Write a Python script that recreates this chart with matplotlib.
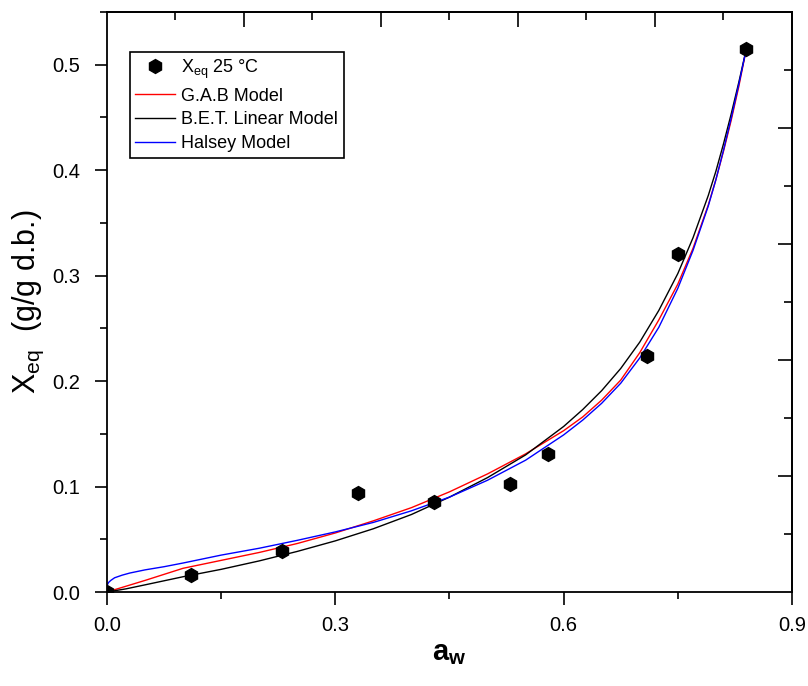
import matplotlib
matplotlib.use('Agg')
import matplotlib.pyplot as plt
from matplotlib.ticker import MultipleLocator, NullFormatter

plt.rcParams['font.family'] = ['Liberation Sans', 'DejaVu Sans']
plt.rcParams['mathtext.default'] = 'regular'

# experimental points, 25 C
aw_exp = [0.0, 0.11, 0.23, 0.33, 0.43, 0.53, 0.58, 0.71, 0.75, 0.84]
x_exp = [0.0, 0.016, 0.039, 0.094, 0.085, 0.102, 0.131, 0.224, 0.321, 0.515]

# model curves
aw_gab = [0.0, 0.025, 0.05, 0.1, 0.15, 0.2, 0.25, 0.3, 0.35, 0.4, 0.45, 0.5, 0.55,
          0.6, 0.625, 0.65, 0.675, 0.7, 0.725, 0.75, 0.77, 0.79, 0.8, 0.81, 0.82, 0.83, 0.84]
x_gab = [0.0, 0.0055, 0.011, 0.0225, 0.030, 0.0375, 0.046, 0.056, 0.0675, 0.080, 0.095, 0.112, 0.131,
         0.153, 0.166, 0.182, 0.201, 0.227, 0.258, 0.292, 0.326, 0.367, 0.391, 0.418, 0.447, 0.479, 0.515]

aw_bet = [0.0, 0.025, 0.05, 0.1, 0.15, 0.2, 0.25, 0.3, 0.35, 0.4, 0.45, 0.5, 0.55,
          0.6, 0.625, 0.65, 0.675, 0.7, 0.725, 0.75, 0.77, 0.79, 0.8, 0.81, 0.82, 0.83, 0.84]
x_bet = [0.0, 0.003, 0.0068, 0.0145, 0.0215, 0.0295, 0.0385, 0.0485, 0.060, 0.0735, 0.090, 0.1085, 0.130,
         0.157, 0.173, 0.191, 0.212, 0.237, 0.267, 0.302, 0.336, 0.376, 0.399, 0.425, 0.453, 0.483, 0.515]

aw_hal = [0.0, 0.002, 0.005, 0.01, 0.02, 0.03, 0.05, 0.075, 0.1, 0.15, 0.2, 0.25, 0.3, 0.35,
          0.4, 0.45, 0.5, 0.55, 0.6, 0.625, 0.65, 0.675, 0.7, 0.725, 0.75, 0.77, 0.79,
          0.8, 0.81, 0.82, 0.83, 0.84]
x_hal = [0.006, 0.009, 0.011, 0.0135, 0.016, 0.018, 0.021, 0.024, 0.0275, 0.035, 0.0415, 0.049, 0.057, 0.066,
         0.077, 0.090, 0.106, 0.125, 0.149, 0.163, 0.179, 0.198, 0.222, 0.251, 0.288, 0.324, 0.366,
         0.391, 0.419, 0.449, 0.481, 0.515]

fig = plt.figure(figsize=(8.08, 6.86), dpi=100)
ax = fig.add_axes([0.1324, 0.137, 0.8478, 0.8455])

ax.plot(aw_exp, x_exp, 'h', color='black', markersize=10, label='X$_{eq}$ 25 °C', zorder=3)
ax.plot(aw_gab, x_gab, color='red', lw=1.0, label='G.A.B Model')
ax.plot(aw_bet, x_bet, color='black', lw=1.0, label='B.E.T. Linear Model')
ax.plot(aw_hal, x_hal, color='blue', lw=1.0, label='Halsey Model')

ax.set_xlim(0, 0.9)
ax.set_ylim(0, 0.55)
ax.xaxis.set_major_locator(MultipleLocator(0.3))
ax.xaxis.set_minor_locator(MultipleLocator(0.15))
ax.yaxis.set_major_locator(MultipleLocator(0.1))
ax.yaxis.set_minor_locator(MultipleLocator(0.05))
ax.tick_params(which='major', direction='out', length=9, width=1.2, labelsize=14.5, colors='black')
ax.tick_params(which='minor', direction='out', length=5, width=1.2)
ax.tick_params(axis='x', pad=8)
ax.tick_params(axis='y', pad=10)
for s in ax.spines.values():
    s.set_linewidth(1.3)

# mirrored axes with their own ticks, pointing in
top = ax.secondary_xaxis('top')
top.set_xticks([0.18, 0.36, 0.54, 0.72])
top.set_xticks([0.09, 0.27, 0.45, 0.63, 0.81], minor=True)
top.xaxis.set_major_formatter(NullFormatter())
top.tick_params(which='major', direction='in', length=11, width=1.2)
top.tick_params(which='minor', direction='in', length=6, width=1.2)
top.spines['top'].set_linewidth(1.3)

right = ax.secondary_yaxis('right')
right.set_yticks([0.11, 0.22, 0.33, 0.44])
right.set_yticks([0.055, 0.165, 0.275, 0.385, 0.495], minor=True)
right.yaxis.set_major_formatter(NullFormatter())
right.tick_params(which='major', direction='in', length=10, width=1.2)
right.tick_params(which='minor', direction='in', length=6, width=1.2)
right.spines['right'].set_linewidth(1.3)

ax.set_xlabel('a$_w$', fontsize=21, fontweight='bold', labelpad=3)
ax.set_ylabel('X$_{eq}$  (g/g d.b.)', fontsize=22, labelpad=5)

leg = ax.legend(loc='upper left', bbox_to_anchor=(0.0336, 0.931), borderaxespad=0,
                fontsize=13, frameon=True, fancybox=False, framealpha=1,
                handlelength=2.2, handletextpad=0.35, borderpad=0.3, labelspacing=0.38)
leg.get_frame().set_edgecolor('black')
leg.get_frame().set_linewidth(1.2)

fig.savefig('out.png', dpi=100)
